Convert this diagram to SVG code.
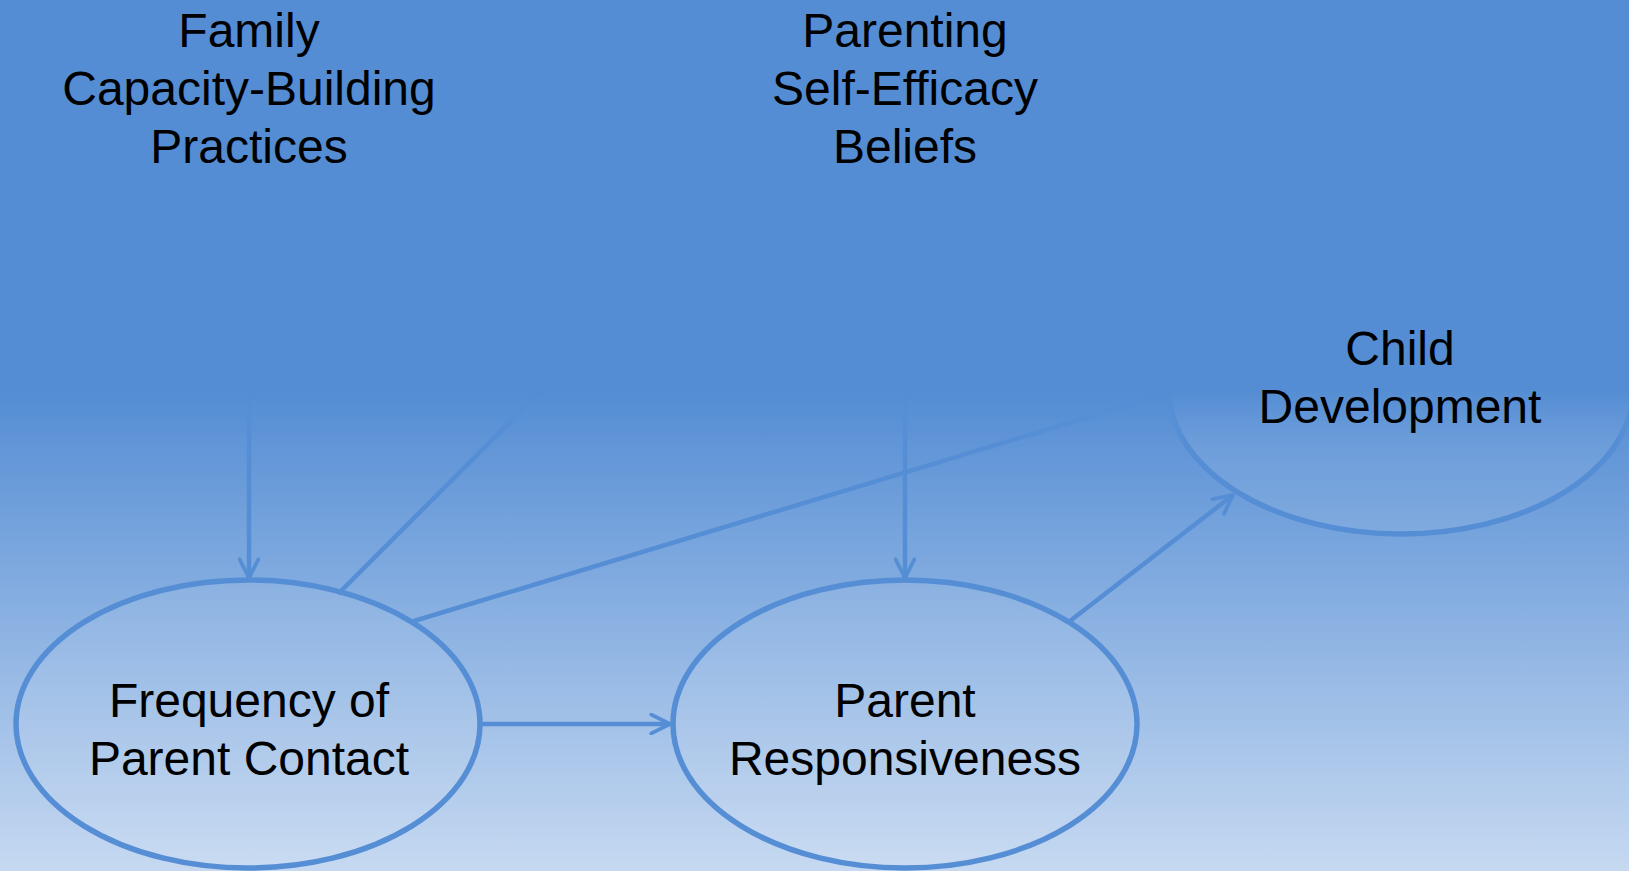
<svg xmlns="http://www.w3.org/2000/svg" width="1629" height="871" viewBox="0 0 1629 871">
<defs>
<linearGradient id="bg" x1="0" y1="0" x2="0" y2="871" gradientUnits="userSpaceOnUse">
<stop offset="0" stop-color="#548dd4"/>
<stop offset="0.45" stop-color="#548dd4"/>
<stop offset="1" stop-color="#c6d9f1"/>
</linearGradient>
<linearGradient id="fade" x1="0" y1="385" x2="0" y2="440" gradientUnits="userSpaceOnUse">
<stop offset="0" stop-color="#000"/>
<stop offset="1" stop-color="#fff"/>
</linearGradient>
<mask id="m" maskUnits="userSpaceOnUse" x="0" y="0" width="1629" height="871">
<rect x="0" y="0" width="1629" height="871" fill="url(#fade)"/>
</mask>
<marker id="arr" viewBox="0 0 12 12" refX="11" refY="6" markerWidth="5" markerHeight="5" markerUnits="strokeWidth" orient="auto">
<path d="M1,1 L11,6 L1,11" fill="none" stroke="#558ed5" stroke-width="2" stroke-linecap="round" stroke-linejoin="round"/>
</marker>
<style>
.node{fill:#ffffff;fill-opacity:0.08;stroke:#558ed5;stroke-width:5.5}
.edge{stroke:#558ed5;stroke-width:4.5;fill:none}
.t{font-family:"Liberation Sans",Arial,sans-serif;font-size:48px;fill:#000;text-anchor:middle}
</style>
</defs>
<rect x="0" y="0" width="1629" height="871" fill="url(#bg)"/>
<g mask="url(#m)">
<g id="connectors">
<line class="edge" x1="249" y1="300" x2="249" y2="578" marker-end="url(#arr)"/>
<line class="edge" x1="637" y1="295" x2="338" y2="594"/>
<line class="edge" x1="414" y1="621" x2="1161" y2="395"/>
<line class="edge" x1="905" y1="300" x2="905" y2="578" marker-end="url(#arr)"/>
<line class="edge" x1="481" y1="724" x2="670" y2="724" marker-end="url(#arr)"/>
<line class="edge" x1="1070" y1="621" x2="1233" y2="495" marker-end="url(#arr)"/>
</g>
<g id="n-frequency"><ellipse class="node" cx="248" cy="724" rx="232" ry="144"/></g>
<g id="n-responsiveness"><ellipse class="node" cx="905" cy="724" rx="232" ry="144"/></g>
<g id="n-child"><ellipse class="node" cx="1401" cy="390" rx="232" ry="144"/></g>
</g>
<g id="n-family"><text class="t" x="249" y="47">Family</text><text class="t" x="249" y="105">Capacity-Building</text><text class="t" x="249" y="163">Practices</text></g>
<g id="n-selfefficacy"><text class="t" x="905" y="47">Parenting</text><text class="t" x="905" y="105">Self-Efficacy</text><text class="t" x="905" y="163">Beliefs</text></g>
<g id="t-child"><text class="t" x="1400" y="365">Child</text><text class="t" x="1400" y="423">Development</text></g>
<g id="t-frequency"><text class="t" x="249" y="717">Frequency of</text><text class="t" x="249" y="775">Parent Contact</text></g>
<g id="t-responsiveness"><text class="t" x="905" y="717">Parent</text><text class="t" x="905" y="775">Responsiveness</text></g>
</svg>
